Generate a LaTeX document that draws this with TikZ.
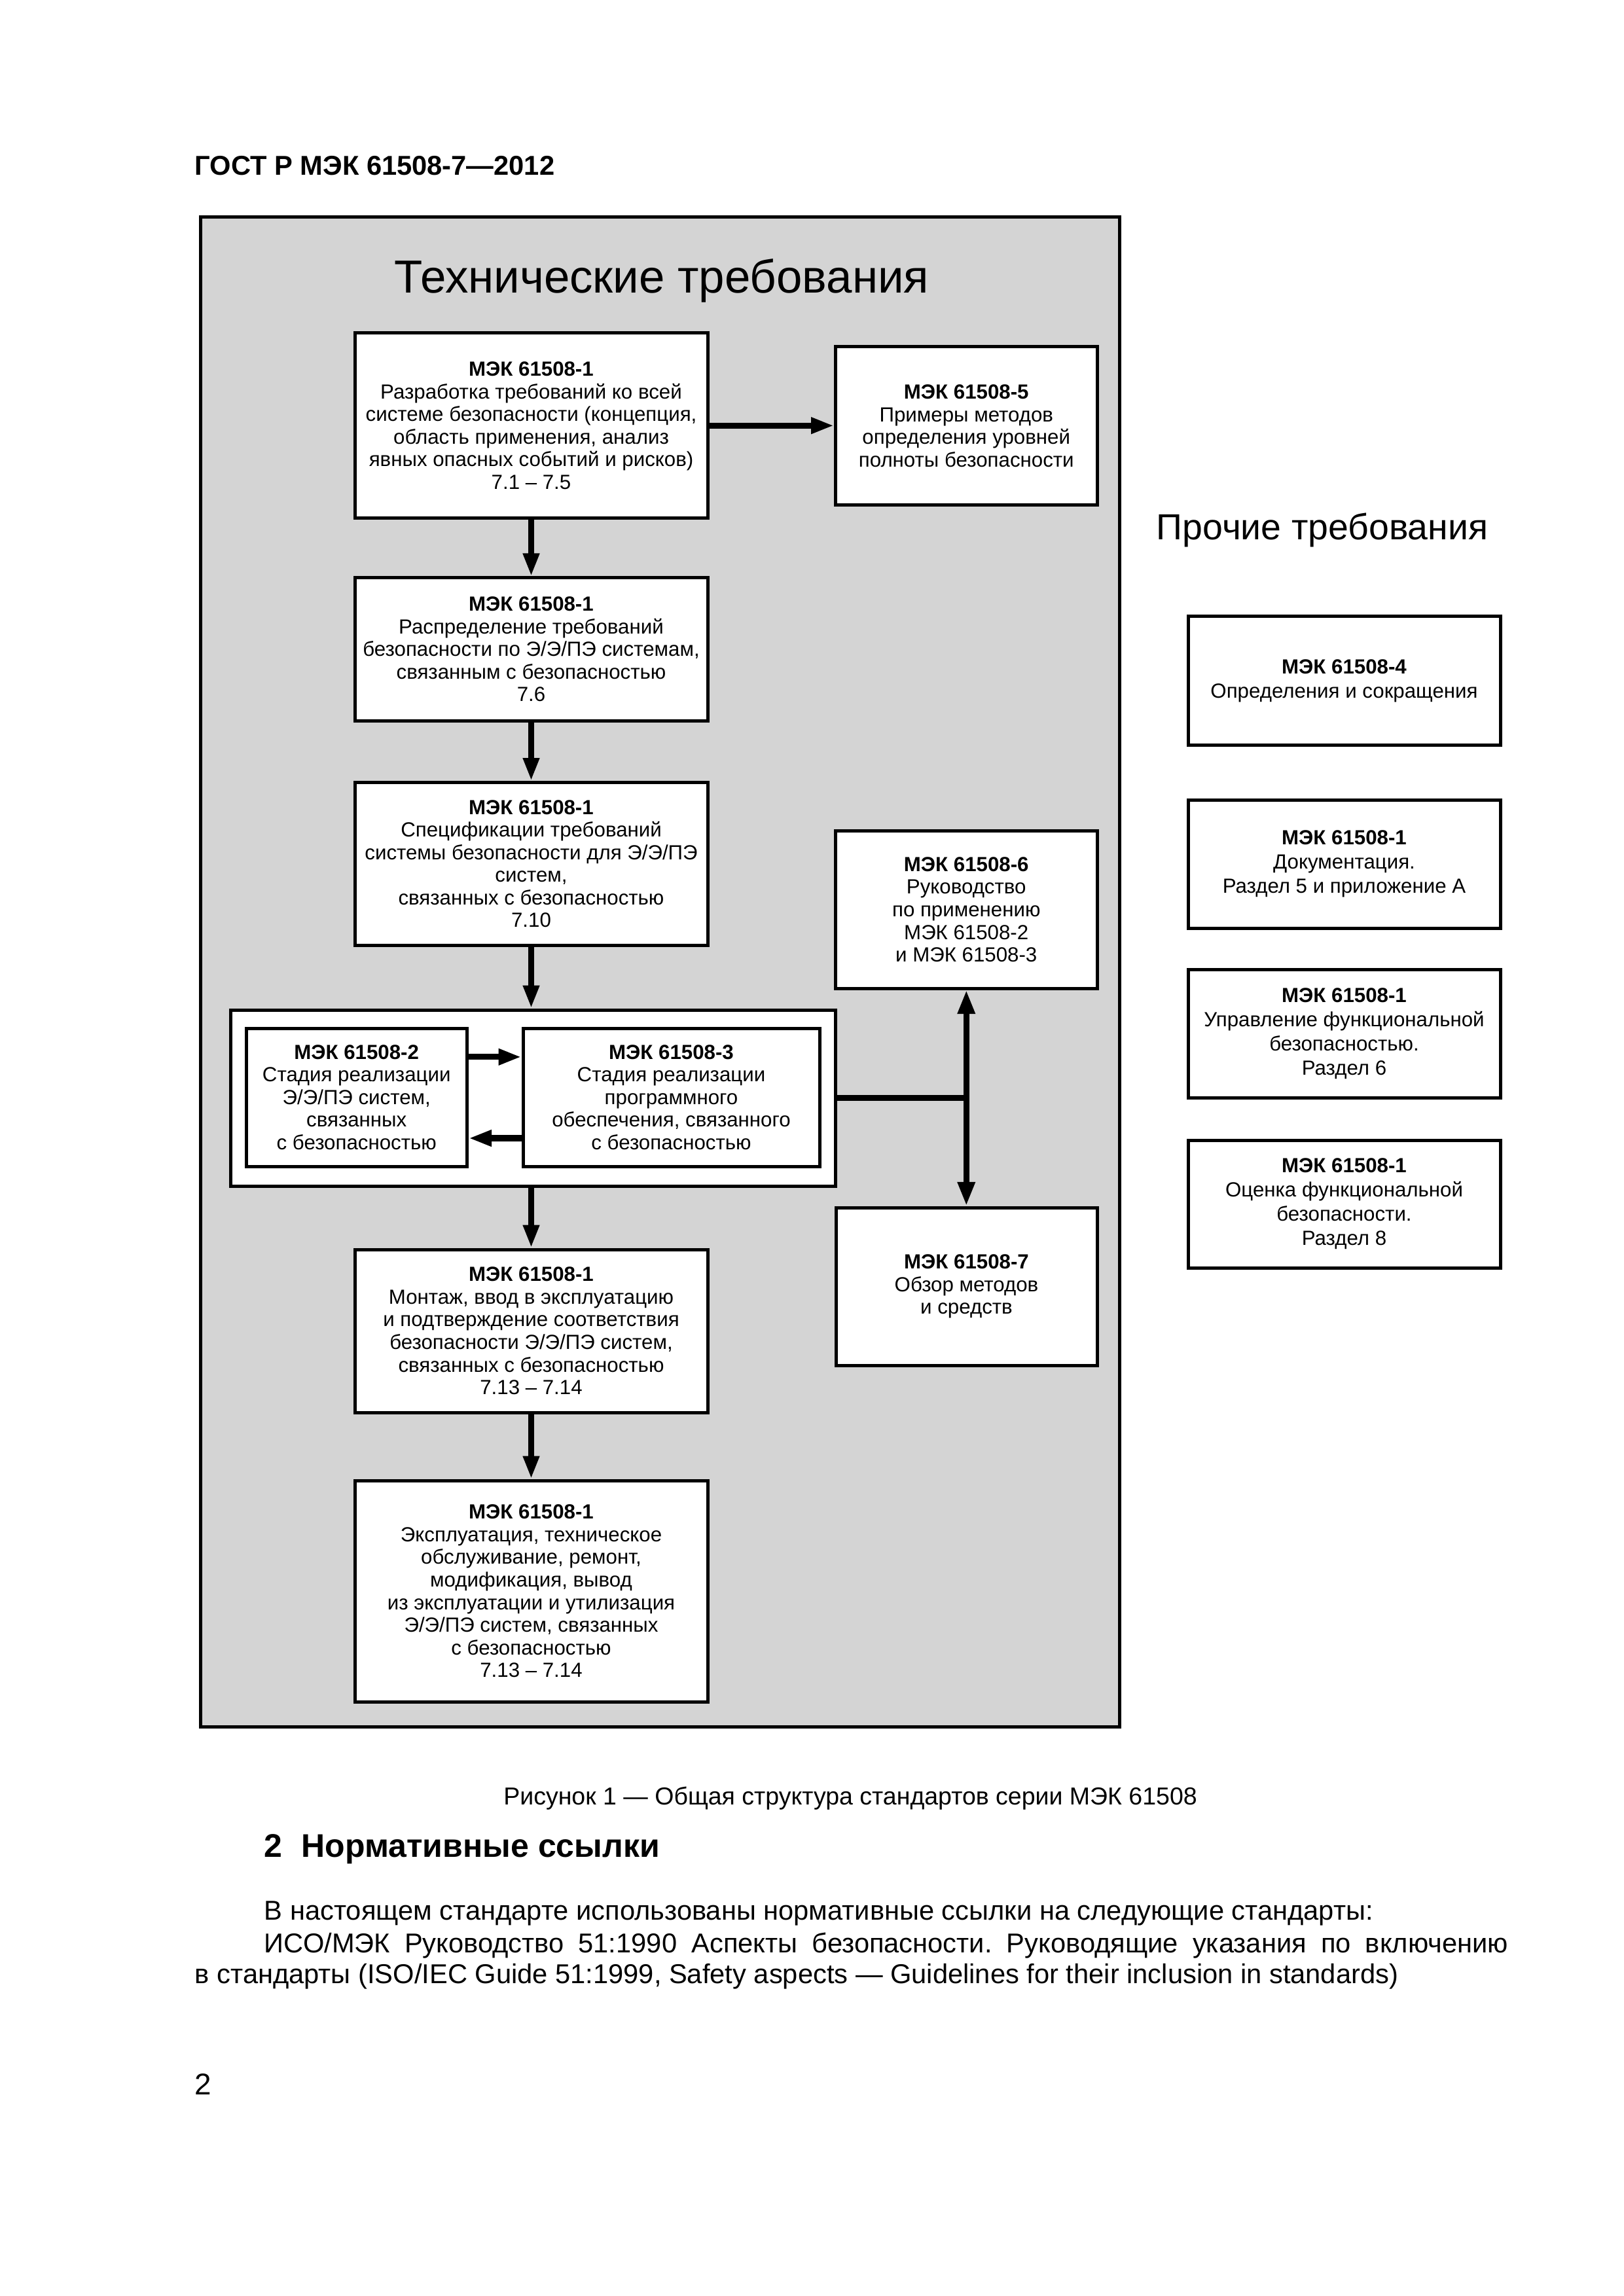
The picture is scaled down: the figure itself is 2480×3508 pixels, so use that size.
\documentclass[tikz,border=0pt]{standalone}
\usepackage{fontspec}
\setmainfont{Liberation Sans}
\usetikzlibrary{arrows.meta}
\definecolor{panelgray}{RGB}{212,212,212}
\frenchspacing
% #1 extra options, #2 name, #3 x1, #4 y1, #5 x2, #6 y2, #7 text
\newcommand\sysbox[7][]{%
  \node[box,#1,minimum width={(#5-#3)*0.24pt},minimum height={(#6-#4)*0.24pt}]
    (#2) at ({(#3+#5)/2},{(#4+#6)/2}) {#7};}
\tikzset{
  box/.style={draw,line width=1.2pt,fill=white,align=center,inner sep=0pt,
    font=\fontsize{7.5}{8.3}\selectfont},
  rbox/.style={font=\fontsize{7.5}{8.9}\selectfont},
  conn/.style={line width=2.2pt},
  arr/.style={conn,-{Triangle[length=8.4pt,width=5.6pt]}},
  darr/.style={conn,{Triangle[length=8.8pt,width=6pt]}-{Triangle[length=8.8pt,width=6pt]}},
  pagetext/.style={inner sep=0pt,font=\fontsize{10}{12}\selectfont},
}
\begin{document}
\begin{tikzpicture}[x=0.24pt,y=-0.24pt]
\fill[white] (0,0) rectangle (2480,3508);
\useasboundingbox (0,0) rectangle (2480,3508);

\node[pagetext,anchor=base west,font=\fontsize{10}{12}\selectfont\bfseries] (hdr) at (297,268) {ГОСТ Р МЭК 61508-7—2012};

\sysbox[fill=panelgray]{tech}{306.5}{332}{1710}{2638.5}{}
\node[pagetext,anchor=base,font=\fontsize{17}{20}\selectfont] (title) at (1011,448) {Технические требования};
\node[pagetext,anchor=base,font=\fontsize{13.3}{16}\selectfont] (other) at (2020,825) {Прочие требования};

\sysbox{A}{542}{509}{1081}{791.5}{\textbf{МЭК 61508-1}\\Разработка требований ко всей\\системе безопасности (концепция,\\область применения, анализ\\явных опасных событий и рисков)\\7.1 – 7.5}
\sysbox{P5}{1276.5}{530}{1676}{771.5}{\textbf{МЭК 61508-5}\\Примеры методов\\определения уровней\\полноты безопасности}
\sysbox{B}{542}{883}{1081}{1101}{\textbf{МЭК 61508-1}\\Распределение требований\\безопасности по Э/Э/ПЭ системам,\\связанным с безопасностью\\7.6}
\sysbox{C}{542}{1195.5}{1081}{1444}{\textbf{МЭК 61508-1}\\Спецификации требований\\системы безопасности для Э/Э/ПЭ\\систем,\\связанных с безопасностью\\7.10}
\sysbox{P6}{1276.5}{1269.6}{1676}{1510}{\textbf{МЭК 61508-6}\\Руководство\\по применению\\МЭК 61508-2\\и МЭК 61508-3}
\sysbox{Cont}{352}{1543}{1276.5}{1812}{}
\sysbox{P2}{376}{1571}{713.5}{1782}{\textbf{МЭК 61508-2}\\Стадия реализации\\Э/Э/ПЭ систем,\\связанных\\с безопасностью}
\sysbox{P3}{799}{1571}{1252}{1782}{\textbf{МЭК 61508-3}\\Стадия реализации\\программного\\обеспечения, связанного\\с безопасностью}
\sysbox{P7}{1277}{1845}{1676}{2086}{\textbf{МЭК 61508-7}\\Обзор методов\\и средств}
\sysbox{D}{542}{1909}{1081}{2158}{\textbf{МЭК 61508-1}\\Монтаж, ввод в эксплуатацию\\и подтверждение соответствия\\безопасности Э/Э/ПЭ систем,\\связанных с безопасностью\\7.13 – 7.14}
\sysbox{E}{542}{2262}{1081}{2600}{\textbf{МЭК 61508-1}\\Эксплуатация, техническое\\обслуживание, ремонт,\\модификация, вывод\\из эксплуатации и утилизация\\Э/Э/ПЭ систем, связанных\\с безопасностью\\7.13 – 7.14}

\sysbox[rbox]{R1}{1815}{942}{2292}{1138}{\textbf{МЭК 61508-4}\\Определения и сокращения}
\sysbox[rbox]{R2}{1815}{1222}{2292}{1418}{\textbf{МЭК 61508-1}\\Документация.\\Раздел 5 и приложение А}
\sysbox[rbox]{R3}{1815}{1481}{2292}{1677}{\textbf{МЭК 61508-1}\\Управление функциональной\\безопасностью.\\Раздел 6}
\sysbox[rbox]{R4}{1815}{1742}{2292}{1937}{\textbf{МЭК 61508-1}\\Оценка функциональной\\безопасности.\\Раздел 8}

% connectors
\draw[arr] (A.east) -- (A.east -| P5.west);
\draw[arr] (A.south) -- (B.north);
\draw[arr] (B.south) -- (C.north);
\draw[arr] (C.south) -- (C.south |- Cont.north);
\draw[arr] (Cont.south -| D.north) -- (D.north);
\draw[arr] (D.south) -- (E.north);
\draw[arr] ([yshift=14.8pt]P2.east) -- ([yshift=14.8pt]P2.east -| P3.west);
\draw[arr] ([yshift=-15pt]P3.west) -- ([yshift=-15pt]P3.west -| P2.east);
\coordinate (J) at (Cont.east -| P6.south);
\draw[conn] (Cont.east) -- (J);
\draw[darr] (P6.south) -- (P6.south |- P7.north);

% page text
\node[pagetext,anchor=base,font=\fontsize{9}{11}\selectfont] (cap) at (1299,2757) {Рисунок 1 — Общая структура стандартов серии МЭК 61508};
\node[pagetext,anchor=base west,font=\fontsize{12}{14}\selectfont\bfseries] (sec) at (403,2837) {2\hspace{7pt}Нормативные ссылки};
\node[pagetext,anchor=base west] (p1) at (403,2933) {В настоящем стандарте использованы нормативные ссылки на следующие стандарты:};
\node[pagetext,anchor=base west] (p2) at (403,2983) {\makebox[456pt][s]{ИСО/МЭК Руководство 51:1990 Аспекты безопасности. Руководящие указания по включению}};
\node[pagetext,anchor=base west] (p3) at (297,3030) {в стандарты (ISO/IEC Guide 51:1999, Safety aspects — Guidelines for their inclusion in standards)};
\node[pagetext,anchor=base west,font=\fontsize{11}{13}\selectfont] (pnum) at (297,3200) {2};
\end{tikzpicture}
\end{document}
